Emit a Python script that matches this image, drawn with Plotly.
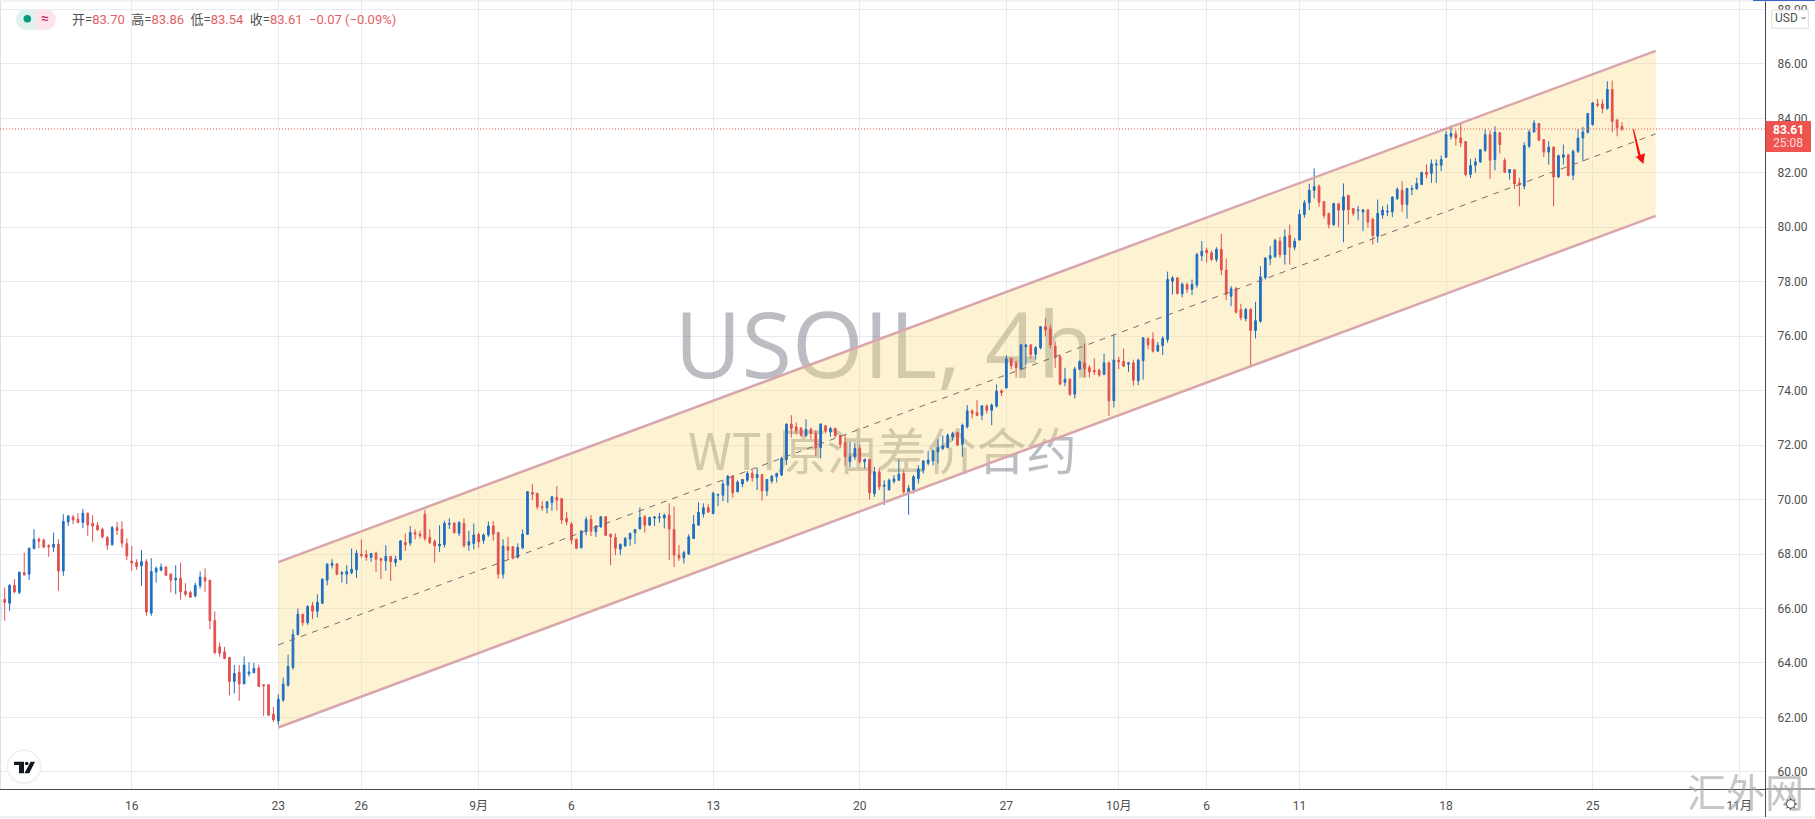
import math
import plotly.graph_objects as go

opens = [
65.55,66.34,66.19,66.85,66.59,67.32,67.26,68.20,68.54,68.51,
68.31,68.25,68.36,67.38,69.18,69.36,69.28,69.16,69.50,69.13,
69.06,68.91,68.61,68.34,68.97,68.91,68.38,67.74,67.69,67.57,
67.72,65.83,67.34,67.41,67.52,67.26,67.05,67.11,66.63,66.59,
66.46,66.83,67.14,67.04,65.56,64.59,64.41,64.20,63.32,63.65,
63.23,63.60,63.64,63.81,63.20,63.20,62.12,61.87,62.64,63.18,
63.83,65.04,65.79,65.48,66.10,65.90,66.19,67.04,67.59,67.64,
67.27,67.26,67.31,67.42,67.99,67.98,67.88,68.03,67.83,67.75,
67.91,67.69,67.79,68.42,68.40,68.79,68.73,69.46,68.61,68.46,
68.30,68.34,69.09,69.14,68.76,69.12,68.33,68.39,68.72,68.50,
68.70,69.03,68.78,67.26,68.27,68.27,67.88,68.23,68.72,70.26,
70.23,69.74,69.70,69.89,70.08,70.04,69.31,69.10,68.54,68.23,
68.82,69.27,68.82,69.00,69.37,68.72,68.61,68.18,68.29,68.55,
68.78,68.93,69.37,69.06,69.32,69.33,69.32,69.43,68.90,67.96,
67.86,68.00,68.57,69.06,69.47,69.70,69.49,70.16,70.16,70.53,
70.86,70.29,70.57,70.71,70.96,70.80,70.92,70.32,70.68,70.84,
70.90,71.47,72.77,72.67,72.62,72.35,72.58,72.44,71.91,72.71,
72.48,72.61,72.34,72.10,71.39,71.57,71.88,71.39,71.47,70.22,
71.02,70.49,70.35,70.66,70.71,70.96,70.25,70.35,70.77,71.08,
71.33,71.42,71.75,71.88,71.91,72.30,72.46,72.03,72.67,73.26,
73.19,73.10,73.44,73.28,73.43,73.99,74.10,75.19,75.02,74.80,
75.61,75.68,75.34,75.57,76.35,76.27,75.64,75.25,74.30,74.42,
73.87,74.79,75.02,74.85,74.75,74.75,74.60,75.02,73.63,75.12,
75.07,74.97,75.02,74.36,75.10,75.91,75.89,75.45,75.66,75.88,
78.02,78.14,77.56,77.90,77.72,77.88,78.96,79.16,79.06,78.82,
79.19,78.43,77.47,77.75,76.98,76.65,76.98,76.21,76.55,78.15,
78.84,78.92,79.49,79.00,79.70,79.27,79.53,80.47,80.90,81.36,
81.51,80.94,80.51,80.10,80.86,80.63,81.17,80.69,80.61,80.56,
80.64,80.29,79.67,80.45,80.56,80.56,81.05,81.36,80.84,81.39,
81.41,81.57,82.02,81.98,82.29,82.28,82.57,83.34,83.43,83.28,
83.15,81.94,82.28,82.40,82.83,83.40,82.49,83.47,82.45,82.00,
82.11,81.63,81.51,82.98,83.50,83.81,83.22,82.76,82.94,81.85,
82.57,82.66,81.91,82.79,83.28,83.49,83.77,84.53,84.53,84.36,
85.06,83.93,83.70]

highs = [
66.34,66.77,66.89,67.08,67.36,68.05,68.24,68.91,68.61,68.57,
68.36,68.79,68.54,69.46,69.43,69.44,69.50,69.65,69.52,69.43,
69.18,68.97,68.67,69.03,69.18,69.21,68.57,68.30,67.81,68.14,
67.81,67.85,67.54,67.65,67.56,67.30,67.59,67.69,66.93,66.65,
66.95,67.36,67.48,67.04,65.89,64.75,64.59,64.22,63.92,63.92,
64.24,64.02,64.00,63.93,63.22,63.20,62.39,62.85,63.46,64.30,
65.24,66.00,65.79,66.12,66.24,66.52,67.10,67.65,67.81,67.65,
67.38,67.59,68.20,68.15,68.54,68.15,68.03,68.09,67.87,68.32,
67.93,67.93,68.51,68.75,69.03,68.91,68.85,69.62,68.91,68.54,
69.06,69.22,69.31,69.15,69.21,69.31,68.85,69.12,68.78,68.76,
69.19,69.21,68.82,68.54,68.63,68.29,68.39,68.90,70.31,70.56,
70.23,69.94,69.94,70.13,70.49,70.04,69.55,69.18,68.57,68.88,
69.37,69.43,69.06,69.39,69.37,68.76,68.76,68.39,68.63,68.78,
68.90,69.71,69.43,69.37,69.39,69.51,69.49,69.86,69.74,68.33,
68.12,68.72,69.43,69.90,69.86,69.83,70.29,70.20,70.71,70.90,
70.90,70.71,70.75,71.05,71.08,71.17,70.94,70.75,70.90,70.98,
71.57,72.80,73.10,72.83,72.67,72.95,72.65,72.55,72.80,72.73,
72.67,72.65,72.37,72.39,72.12,72.09,72.00,71.51,71.47,71.20,
71.14,70.71,70.77,70.90,71.47,71.08,70.53,70.90,71.26,71.45,
71.79,71.84,72.22,72.36,72.43,72.49,72.49,72.79,73.47,73.31,
73.65,73.47,73.49,73.53,74.23,74.05,75.30,75.20,75.10,75.71,
75.71,75.71,75.63,76.37,76.66,76.42,75.80,75.31,74.84,74.45,
74.87,75.12,75.73,74.94,75.18,74.81,75.36,75.06,76.07,75.24,
75.55,75.06,75.14,75.18,75.95,75.95,76.14,75.79,76.00,78.37,
78.21,78.17,77.97,77.97,78.08,79.06,79.49,79.25,79.15,79.27,
79.76,78.85,77.84,77.81,77.19,77.04,77.04,77.26,78.57,78.90,
79.31,79.58,79.64,79.92,80.10,79.61,80.65,81.00,81.60,82.16,
81.57,80.96,80.53,80.90,80.90,81.61,81.20,80.71,80.78,80.65,
80.65,80.35,81.02,80.78,80.84,81.14,81.47,81.69,81.45,81.54,
81.82,82.04,82.31,82.49,82.49,82.63,83.53,83.74,83.56,83.83,
83.15,82.51,82.55,82.85,83.59,83.56,83.71,83.49,82.55,82.14,
82.12,81.81,83.12,83.59,83.93,83.83,83.22,83.16,82.98,82.67,
83.04,82.67,82.85,83.59,83.69,84.20,84.59,84.71,84.69,85.36,
85.39,83.99,83.86]

lows = [
65.55,65.55,65.91,66.56,66.52,67.22,67.05,68.18,68.21,68.21,
67.90,68.08,66.65,67.20,69.03,69.09,69.13,68.95,68.67,68.45,
68.85,68.57,68.15,68.32,68.70,68.24,67.77,67.38,67.42,66.83,
65.73,65.73,66.95,67.36,67.20,66.59,66.52,66.32,66.44,66.39,
66.41,66.73,66.61,65.24,64.32,64.22,64.14,62.81,62.88,62.61,
63.23,63.50,63.62,63.13,62.06,62.06,61.84,61.71,62.57,63.13,
63.75,65.02,65.36,65.40,65.61,65.67,66.19,66.85,67.47,67.22,
66.95,66.89,67.26,67.12,67.87,67.75,67.71,67.34,67.08,67.38,
67.01,67.54,67.77,68.12,68.30,68.54,68.57,68.48,68.36,67.69,
68.08,68.24,68.92,68.76,68.66,68.24,68.12,68.17,68.23,68.38,
68.63,68.49,67.10,67.10,67.78,67.80,67.83,68.17,68.70,69.98,
69.64,69.59,69.49,69.59,69.61,69.10,69.06,68.36,68.18,68.21,
68.69,68.66,68.63,68.96,68.66,67.59,67.96,67.96,68.27,68.30,
68.36,68.90,68.78,69.05,69.03,69.15,68.94,67.78,67.53,67.75,
67.65,67.96,68.57,69.06,69.34,69.51,69.45,69.76,69.94,69.88,
70.07,70.26,70.45,70.65,70.65,70.35,69.96,70.13,70.59,70.63,
70.86,71.27,72.28,72.39,72.31,72.31,72.22,71.60,71.51,72.43,
72.31,72.28,71.88,71.24,71.20,71.45,71.33,71.14,70.00,70.10,
70.35,69.80,70.35,70.59,70.69,70.16,69.44,70.22,70.59,70.96,
71.26,71.25,71.33,71.81,71.88,72.16,71.96,71.57,72.61,72.98,
73.06,72.92,73.16,72.73,73.38,73.80,74.08,74.78,74.48,74.75,
74.94,75.18,75.14,75.52,75.99,75.56,74.84,74.20,74.16,73.80,
73.71,74.75,74.48,74.48,74.57,74.51,74.57,73.08,73.38,74.79,
74.87,74.69,74.18,74.20,74.41,75.52,75.40,75.43,75.31,75.76,
77.53,77.53,77.43,77.59,77.51,77.78,78.76,78.70,78.76,78.73,
78.24,77.32,77.10,76.84,76.59,76.55,74.90,75.92,76.49,78.08,
78.61,78.88,78.88,78.63,78.63,79.16,79.53,80.35,80.63,81.06,
80.75,80.32,79.96,80.04,80.00,79.45,80.10,80.41,80.26,79.86,
79.98,79.37,79.43,80.32,80.41,80.37,81.00,80.57,80.32,81.18,
81.39,81.57,81.79,81.63,81.63,82.06,82.55,83.22,83.00,82.95,
81.87,81.81,82.00,82.36,82.76,81.78,82.09,82.71,82.00,81.75,
81.41,80.77,81.39,82.91,83.49,83.16,82.58,82.30,80.77,81.81,
82.30,81.87,81.73,82.73,82.42,83.44,83.73,84.41,84.18,84.32,
83.49,83.34,83.54]

closes = [
66.32,66.22,66.85,66.61,67.33,67.23,68.21,68.54,68.47,68.25,
68.27,68.36,67.38,69.19,69.40,69.25,69.16,69.50,69.07,69.03,
68.89,68.63,68.32,68.97,68.87,68.40,67.93,67.67,67.54,67.72,
65.87,67.36,67.48,67.52,67.22,67.04,67.11,66.61,66.52,66.41,
66.85,67.15,67.01,65.55,64.38,64.36,64.16,63.32,63.61,63.23,
63.92,63.67,63.80,63.13,63.16,62.08,61.91,62.67,63.22,63.87,
65.04,65.79,65.48,66.07,65.90,66.22,67.08,67.63,67.66,67.26,
67.31,67.36,67.44,68.03,67.94,67.88,68.02,67.81,67.77,67.91,
67.72,67.81,68.48,68.34,68.79,68.73,68.67,68.57,68.42,68.30,
68.36,69.13,69.12,68.78,69.15,68.30,68.45,68.70,68.45,68.70,
69.03,68.73,67.26,68.29,68.14,67.85,68.24,68.73,70.29,70.20,
69.74,69.70,69.92,70.10,69.98,69.25,69.18,68.51,68.21,68.84,
69.27,68.84,69.03,69.37,68.69,68.63,68.21,68.35,68.57,68.76,
68.90,69.34,69.06,69.34,69.36,69.36,69.43,68.92,67.96,67.86,
68.05,68.63,69.09,69.53,69.70,69.54,70.23,70.19,70.57,70.86,
70.25,70.64,70.74,70.96,70.80,70.92,70.32,70.74,70.86,70.96,
71.51,72.77,72.61,72.53,72.35,72.58,72.43,71.90,72.77,72.51,
72.61,72.34,72.02,71.57,71.57,71.88,71.39,71.47,70.25,71.02,
70.47,70.53,70.71,70.76,70.93,70.28,70.41,70.84,71.12,71.42,
71.45,71.79,71.91,71.97,72.36,72.43,72.00,72.73,73.26,73.16,
73.09,73.44,73.28,73.47,73.98,73.93,75.17,74.91,74.84,75.68,
75.68,75.33,75.58,76.35,76.23,75.68,75.21,74.24,74.42,73.87,
74.79,75.06,74.81,74.69,74.69,74.57,75.02,73.63,75.12,75.06,
74.90,75.02,74.38,75.12,75.94,75.69,75.45,75.67,75.92,78.08,
78.14,77.57,77.91,77.72,77.90,79.00,79.12,79.06,78.82,79.19,
78.43,77.53,77.74,76.88,76.68,76.98,76.21,76.57,78.18,78.87,
78.96,79.52,79.00,79.65,79.27,79.49,80.47,80.90,81.36,81.49,
80.92,80.43,80.10,80.87,80.63,81.12,80.65,80.51,80.63,80.64,
80.19,79.70,80.51,80.63,80.59,81.11,81.39,80.84,81.42,81.42,
81.61,82.01,81.94,82.33,82.32,82.49,83.40,83.44,83.28,83.10,
81.94,82.27,82.40,82.85,83.40,82.46,83.49,83.04,82.02,82.12,
81.59,81.56,83.00,83.50,83.83,83.20,82.76,82.94,81.85,82.63,
82.66,81.90,82.79,83.28,83.50,84.18,84.57,84.49,84.36,85.06,
83.89,83.65,83.61]

tick_index = [27, 57, 74, 98, 117, 146, 176, 206, 229, 247, 266, 296, 326, 356]
tick_labels = ["16", "23", "26", "9月", "6", "13", "20", "27", "10月", "6", "11", "18", "25", "11月"]

channel_x = [57, 338.9]
channel_upper = [67.70, 86.48]
channel_middle = [64.66, 83.43]
channel_lower = [61.63, 80.42]
last_price = 83.61

X_RANGE = [0.04, 361.27]
Y_RANGE = [59.37, 88.31]
PLOT_W, PLOT_TOP, PLOT_BOTTOM = 1765, 1, 789
UP, DOWN = "#1f6fc0", "#e2504f"
GRID = "#e7ebf0"
AXIS = "#4a4a4a"
TEXT = "#4f4f4f"
FONT = "Roboto, 'Noto Sans CJK SC', sans-serif"
CJK = "'Noto Sans CJK SC', Roboto, sans-serif"

def px(x):
    return x / PLOT_W

def py(y):
    return (PLOT_BOTTOM - y) / (PLOT_BOTTOM - PLOT_TOP)

def rect(x0, y0, x1, y1, **kw):
    return dict(type="rect", xref="paper", yref="paper", x0=px(x0), x1=px(x1), y0=py(y0), y1=py(y1), **kw)

def seg(x0, y0, x1, y1, color, width=1):
    return dict(type="line", xref="paper", yref="paper", x0=px(x0), x1=px(x1), y0=py(y0), y1=py(y1),
                line=dict(color=color, width=width))

def path(points, close=True, **kw):
    d = "M" + " L".join(f"{px(a):.6f},{py(b):.6f}" for a, b in points) + (" Z" if close else "")
    return dict(type="path", xref="paper", yref="paper", path=d, **kw)

def circle(cx, cy, r, **kw):
    return dict(type="circle", xref="paper", yref="paper", x0=px(cx - r), x1=px(cx + r),
                y0=py(cy + r), y1=py(cy - r), **kw)

def label(x, y, text, size=12, color=TEXT, anchor="center", family=FONT):
    return dict(xref="paper", yref="paper", x=px(x), y=py(y), text=text, showarrow=False, xanchor=anchor,
                yanchor="middle", font=dict(size=size, color=color, family=family), align="left")

def pill(x0, x1, y0, y1, fill, left):
    r = (y1 - y0) / 2
    n = 10
    pts = []
    cx = x0 + r if left else x1 - r
    for k in range(n + 1):
        a = math.pi / 2 + math.pi * k / n
        s = 1 if left else -1
        pts.append((cx + s * r * math.cos(a), (y0 + y1) / 2 - r * math.sin(a)))
    if left:
        pts += [(x1, y1), (x1, y0)]
    else:
        pts += [(x0, y1), (x0, y0)]
    return path(pts, fillcolor=fill, line=dict(width=0))

fig = go.Figure()

fig.add_trace(go.Scatter(x=[181], y=[75.3], mode="text", text=["USOIL, 4h"], textposition="middle center",
                         textfont=dict(size=92, family="'Open Sans', sans-serif", color="rgba(120,123,134,0.5)"),
                         hoverinfo="skip", showlegend=False))
fig.add_trace(go.Scatter(x=[180.6], y=[71.53], mode="text", text=["WTI原油差价合约"], textposition="middle center",
                         textfont=dict(size=50, family=CJK, color="rgba(120,123,134,0.5)"),
                         hoverinfo="skip", showlegend=False))
fig.add_trace(go.Scatter(x=channel_x + channel_x[::-1], y=channel_upper + channel_lower[::-1], mode="lines",
                         fill="toself", fillcolor="rgba(250,222,135,0.38)", line=dict(width=0),
                         hoverinfo="skip", showlegend=False))

fig.add_trace(go.Candlestick(
    x=list(range(len(opens))), open=opens, high=highs, low=lows, close=closes, xaxis="x2", yaxis="y2",
    increasing=dict(line=dict(color=UP, width=1), fillcolor=UP),
    decreasing=dict(line=dict(color=DOWN, width=1), fillcolor=DOWN),
    whiskerwidth=0, showlegend=False))

for ys in (channel_upper, channel_lower):
    fig.add_trace(go.Scatter(x=channel_x, y=ys, mode="lines", xaxis="x2", yaxis="y2",
                             line=dict(color="#d8a6ac", width=2.5), hoverinfo="skip", showlegend=False))
fig.add_trace(go.Scatter(x=channel_x, y=channel_middle, mode="lines", xaxis="x2", yaxis="y2",
                         line=dict(color="#7a6a70", width=1, dash="6px,6px"), hoverinfo="skip", showlegend=False))

shapes = [
    seg(0.5, 1, 0.5, 789, "#e0e0e0"),
    seg(0, 1, 1815, 1, "#e6e6e6"),
    seg(0, 817, 1815, 817, "#e0e0e0"),
    seg(1753, 0.5, 1815, 0.5, "#3f62c8", 1),
    seg(1765, 789, 1815, 789, AXIS),
    seg(1765.5, 789, 1765.5, 817, AXIS),
    dict(type="line", xref="paper", yref="y", x0=0, x1=1, y0=last_price, y1=last_price,
         line=dict(color="#ef5350", width=1, dash="1px,2px")),
    rect(1765.5, 121, 1811, 152, fillcolor="#ef5350", line=dict(width=0)),
    rect(1771.7, 10, 1808.3, 28.3, fillcolor="white", line=dict(color="#dddddd", width=1)),
    path([(1801.5, 17), (1803.5, 19), (1805.5, 17)], close=False, line=dict(color="#555", width=1)),
    pill(16, 36, 9, 30, "#e0f2ef", True),
    pill(36, 56, 9, 30, "#fde3ec", False),
    circle(27.3, 18.8, 3.8, fillcolor="#089981", line=dict(width=0)),
    circle(24, 766.7, 16.5, fillcolor="white", line=dict(color="#eeeeee", width=1.5)),
    path([(14, 761.7), (24, 761.7), (24, 773.3), (19, 773.3), (19, 765), (14, 765)],
         fillcolor="#131722", line=dict(width=0)),
    circle(26.7, 763.5, 1.8, fillcolor="#131722", line=dict(width=0)),
    path([(30.7, 761.7), (35, 761.7), (29.3, 773.3), (24.4, 773.3)], fillcolor="#131722", line=dict(width=0)),
    circle(1790.7, 804, 4.3, fillcolor="rgba(0,0,0,0)", line=dict(color="#333", width=1)),
    path([(1632.7, 129.3), (1634, 129.3), (1640.7, 155), (1645, 153.3), (1643.3, 164), (1635.7, 156.7), (1638.3, 156)],
         fillcolor="#f71010", line=dict(width=0)),
]
for k in range(8):
    a = k * math.pi / 4
    shapes.append(seg(1790.7 + 4.3 * math.cos(a), 804 + 4.3 * math.sin(a),
                      1790.7 + 6.3 * math.cos(a), 804 + 6.3 * math.sin(a), "#333"))

red = "#e2605f"
def v(s):
    return f'<span style="color:{red}">{s}</span>'

annotations = [
    label(70, 19.7, "开=" + v("83.70") + "&nbsp;&nbsp;高=" + v("83.86") + "&nbsp;&nbsp;低=" + v("83.54")
          + "&nbsp;&nbsp;收=" + v("83.61") + "&nbsp;&nbsp;" + v("−0.07 (−0.09%)"), size=13, anchor="left"),
    label(45, 18.5, "≈", size=14, color="#c2185b"),
    label(1786.5, 18.5, "USD", size=12),
    label(1788.5, 130, "<b>83.61</b>", size=12, color="white"),
    label(1788.5, 143.5, "25:08", size=12, color="#ffd9d9"),
    label(1745, 789.5, "汇外网", size=39, color="rgba(160,160,160,0.6)", family=CJK),
]

fig.update_layout(
    width=1815, height=819, margin=dict(l=0, r=50, t=1, b=30, pad=0, autoexpand=False),
    paper_bgcolor="white", plot_bgcolor="white", showlegend=False, boxgap=0.5, hovermode=False,
    font=dict(family=FONT, size=12, color=TEXT),
    xaxis=dict(range=X_RANGE, tickmode="array", tickvals=tick_index, ticktext=tick_labels,
               showgrid=True, gridcolor=GRID, gridwidth=1, zeroline=False, showline=True, linecolor=AXIS,
               ticks="", ticklabelstandoff=6, rangeslider=dict(visible=False), fixedrange=True, anchor="y"),
    yaxis=dict(range=Y_RANGE, side="right", tick0=60, dtick=2, tickformat=".2f", showgrid=True, gridcolor=GRID,
               gridwidth=1, zeroline=False, showline=True, linecolor=AXIS, ticks="", ticklabelstandoff=9,
               fixedrange=True, anchor="x"),
    xaxis2=dict(range=X_RANGE, overlaying="x", visible=False, rangeslider=dict(visible=False), fixedrange=True,
                anchor="y2"),
    yaxis2=dict(range=Y_RANGE, overlaying="y", visible=False, fixedrange=True, anchor="x2"),
    shapes=shapes, annotations=annotations,
)

fig.write_html("out.html", config=dict(displayModeBar=False),
               post_script="document.body.style.margin='0';document.body.style.overflow='hidden';")
